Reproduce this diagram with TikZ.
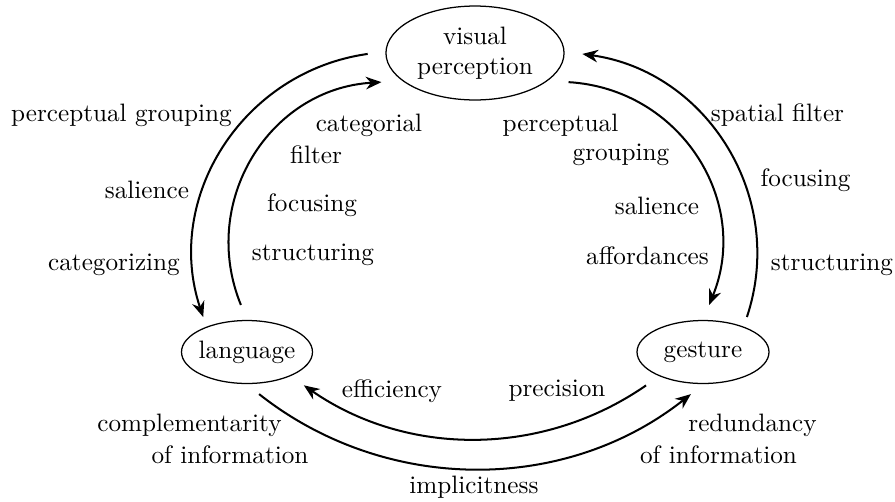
\documentclass[tikz,border=0pt]{standalone}
\usetikzlibrary{arrows.meta,shapes.geometric}
\begin{document}
\begin{tikzpicture}[x=0.397pt,y=0.397pt,
  ell/.style={ellipse,draw,line width=0.5pt,inner xsep=-1pt,inner ysep=0pt},
  lab/.style={inner sep=0pt},
  arr/.style={line width=0.8pt,-{Stealth[length=6.2pt,width=5pt,inset=2pt]}}]
\useasboundingbox (0,0) rectangle (895,501);
% nodes
\node[ell,align=center,minimum width=70.7pt,minimum height=37.3pt] (vp) at (475,448) {visual\\perception};
\node[ell,minimum width=52pt,minimum height=25pt] (lang) at (247,149) {language};
\node[ell,minimum width=52.4pt,minimum height=25pt] (gest) at (703,149) {gesture};
% left arcs
\draw[arr,shorten <=7.1pt,shorten >=4pt] (vp.179) to[out=188,in=108.5,out distance=57.2pt,in distance=54pt] (lang.148);
\draw[arr,shorten <=6.4pt,shorten >=8.3pt] (lang.90) to[out=112.2,in=183.4,out distance=50.8pt,in distance=52.8pt] (vp.201);
% right arcs
\draw[arr,shorten <=8.3pt,shorten >=6.4pt] (vp.339) to[out=-3.4,in=67.8,out distance=52.8pt,in distance=50.8pt] (gest.90);
\draw[arr,shorten <=4pt,shorten >=7.1pt] (gest.32) to[out=71.5,in=-8,out distance=54pt,in distance=57.2pt] (vp.1);
% bottom arcs
\draw[arr,shorten <=6.4pt,shorten >=6.4pt] (gest.209) to[out=214.7,in=325.3,out distance=56.4pt,in distance=56.4pt] (lang.331);
\draw[arr,shorten <=6.4pt,shorten >=6.4pt] (lang.269) to[out=321.7,in=218.3,out distance=70.3pt,in distance=70.3pt] (gest.271);
% labels left outer
\node[lab] (t1) at (121.5,386) {perceptual grouping};
\node[lab] (t2) at (147,311) {salience};
\node[lab] (t3) at (114,236) {categorizing};
% labels left inner
\node[lab] (t4) at (369,376) {categorial};
\node[lab] (t5) at (316,346) {filter};
\node[lab] (t6) at (312,296) {focusing};
\node[lab] (t7) at (313,246) {structuring};
% labels right inner
\node[lab] (t8) at (560.5,376) {perceptual};
\node[lab] (t9) at (621,346) {grouping};
\node[lab] (t10) at (657,295) {salience};
\node[lab] (t11) at (647.5,245) {affordances};
% labels right outer
\node[lab] (t12) at (777.5,386) {spatial filter};
\node[lab] (t13) at (805.5,321) {focusing};
\node[lab] (t14) at (832,236) {structuring};
% bottom labels
\node[lab] (t15) at (392,110) {efficiency};
\node[lab] (t16) at (557,110) {precision};
\node[lab] (t17) at (474,14) {implicitness};
\node[lab] (t18) at (189.5,76) {complementarity};
\node[lab] (t19) at (230,46) {of information};
\node[lab] (t20) at (752.5,76) {redundancy};
\node[lab] (t21) at (718.5,46) {of information};
\end{tikzpicture}
\end{document}
